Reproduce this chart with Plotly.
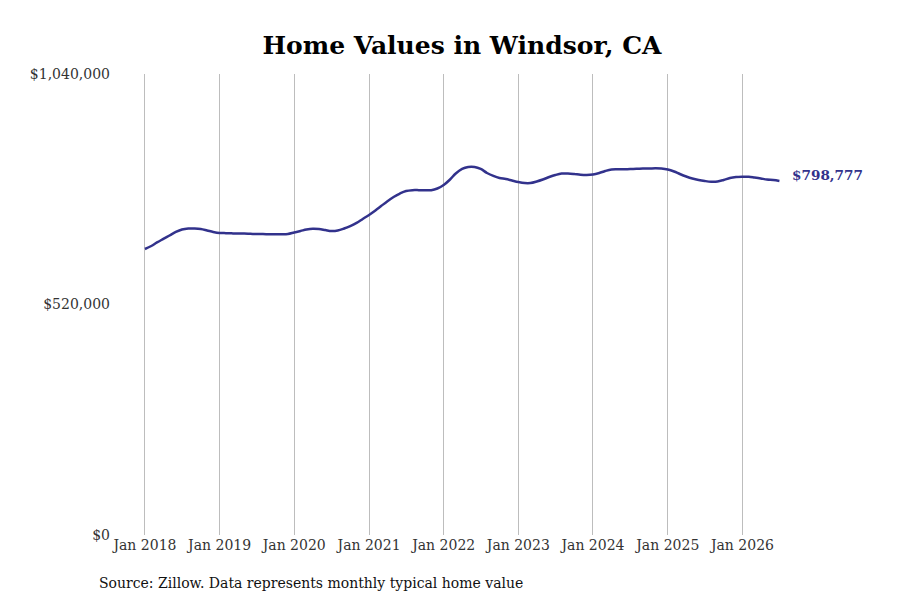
import pandas as pd
import plotly.graph_objects as go

# Monthly typical home value, Jan 2018 .. Jul 2026
months = pd.date_range("2018-01-01", "2026-07-01", freq="MS")
home_values = [
    645200, 652000, 660000, 668000, 675700, 683600, 689200, 691500, 691500, 690300, 687000, 683600,
    681300, 681000, 680500, 680000, 680000, 679500, 679000, 679000, 678500, 678500, 678500, 679000,
    682400, 685800, 689200, 691000, 690300, 688000, 685800, 687000, 691500, 697000, 704000, 713000,
    722000, 732000, 742000, 753000, 762500, 770400, 776000, 778000, 778000, 777600, 778000, 781700,
    789600, 802000, 815500, 825700, 830200, 830200, 825700, 816700, 810000, 805400, 803200, 799800,
    796400, 794100, 794100, 797500, 802000, 807600, 812200, 815500, 815500, 814400, 812800, 812200,
    813300, 816700, 821200, 824600, 825000, 825000, 825700, 826000, 826800, 826800, 827200, 826800,
    824600, 820000, 814400, 808800, 804300, 800900, 798600, 797000, 797500, 800900, 805400, 807600,
    808300, 808300, 806500, 804300, 802000, 800900, 798777,
]

tick_dates = pd.date_range("2018-01-01", "2026-01-01", freq="YS")
tick_labels = [d.strftime("Jan %Y") for d in tick_dates]
y_ticks = [0, 520000, 1040000]
y_labels = ["$0", "$520,000", "$1,040,000"]

line_color = "#32328c"
font_family = "DejaVu Serif"

fig = go.Figure()
fig.add_trace(go.Scatter(
    x=months, y=home_values, mode="lines",
    line=dict(color=line_color, width=2.5, shape="spline"),
    hoverinfo="skip", showlegend=False,
))

# label for the latest value
fig.add_annotation(
    x=months[-1], y=home_values[-1], text=f"<b>${home_values[-1]:,}</b>",
    showarrow=False, xanchor="left", xshift=11, yshift=6,
    font=dict(family=font_family, size=13.6, color=line_color),
)

fig.add_annotation(
    x=-0.019, y=-0.104, xref="paper", yref="paper",
    text="Source: Zillow. Data represents monthly typical home value",
    showarrow=False, xanchor="left", yanchor="middle",
    font=dict(family=font_family, size=14, color="#111111"),
)

fig.update_layout(
    width=900, height=600,
    margin=dict(l=103, r=57, t=66, b=73),
    paper_bgcolor="white", plot_bgcolor="white",
    title=dict(text="<b>Home Values in Windsor, CA</b>", x=0.5044, xanchor="center",
               y=0.938, yanchor="middle",
               font=dict(family=font_family, size=25, color="black")),
    font=dict(family=font_family, size=14, color="#333333"),
)
fig.update_xaxes(
    range=["2017-07-19", "2027-06-16"],
    tickvals=tick_dates, ticktext=tick_labels,
    showgrid=True, gridcolor="#bdbdbd", gridwidth=1,
    showline=False, zeroline=False, ticks="",
)
fig.update_yaxes(
    range=[0, 1040000], tickvals=y_ticks, ticktext=y_labels,
    showgrid=False, zeroline=False, showline=False, ticks="",
)

fig.write_html("out.html")
